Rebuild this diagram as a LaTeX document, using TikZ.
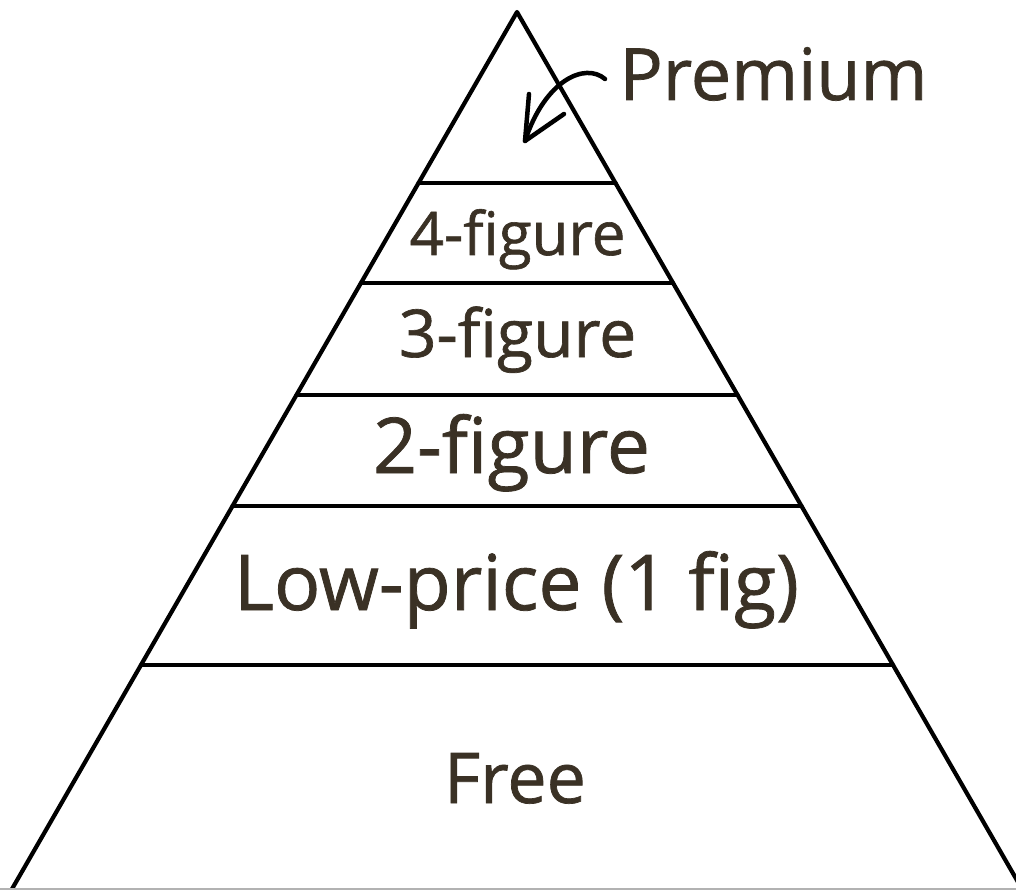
\documentclass[tikz,border=0pt]{standalone}
\usepackage{fontspec}
\setmainfont{Open Sans}
\newfontfamily\hand{Open Sans}[FakeBold=1]
\definecolor{ink}{HTML}{3A3125}
\begin{document}
\begin{tikzpicture}[x=1pt,y=-1pt,
  edge/.style={line width=4.2pt,line join=round,line cap=round},
  tier/.style={text=ink,inner sep=0pt,anchor=base},
  pointer/.style={line width=4.5pt,line cap=round,line join=round}]
\useasboundingbox (0,0) rectangle (1016,890);
\fill[white] (0,0) rectangle (1016,890);
\coordinate (apex) at (517,12);
\coordinate (bl) at (12,889);
\coordinate (br) at (1022,889);
\draw[edge] (bl) -- (apex) -- (br);
\draw[gray!60,line width=1.5pt] (0,889) -- (1016,889);
% tier separators
\foreach \n/\l/\r/\y in {a/418.5/615.5/183, b/361/673/283, c/296.5/737.5/395, d/232.5/801.5/506, e/141/893/665}{
  \coordinate (\n l) at (\l,\y);
  \coordinate (\n r) at (\r,\y);
  \draw[edge] (\n l) -- (\n r);
}
\node[tier,font=\hand\fontsize{72}{72}\selectfont] (premium) at (773.5,100) {Premium};
\node[tier,font=\hand\fontsize{60}{60}\selectfont] (t4) at (517.5,255) {4-figure};
\node[tier,font=\hand\fontsize{66}{66}\selectfont] (t3) at (517.5,357) {3-figure};
\node[tier,font=\hand\fontsize{77}{77}\selectfont] (t2) at (511.5,473) {2-figure};
\node[tier,font=\hand\fontsize{77}{77}\selectfont] (t1) at (516.5,610) {Low-price (1 fig)};
\node[tier,font=\hand\fontsize{70}{70}\selectfont] (t0) at (515,803) {Free};
\coordinate (arrstart) at (605,79);
\coordinate (arrtip) at (525,141);
\draw[pointer] (arrstart) .. controls (585,62) and (545,80) .. (arrtip);
\draw[pointer] (529,94) -- (arrtip) -- (564,114);
\end{tikzpicture}
\end{document}
